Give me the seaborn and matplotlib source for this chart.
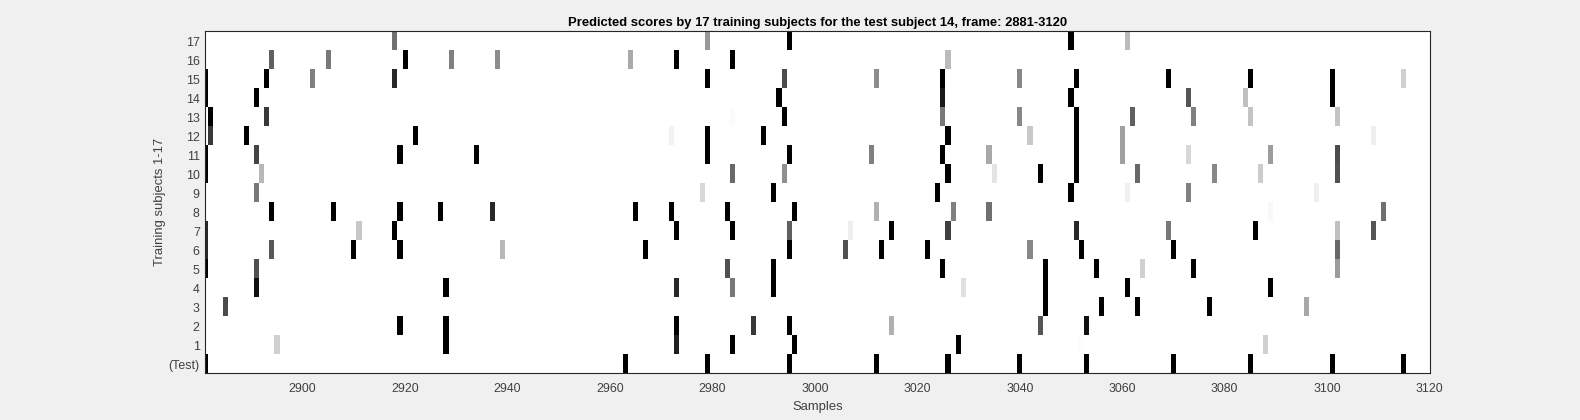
import numpy as np
import pandas as pd
import matplotlib
matplotlib.use("Agg")
import matplotlib.pyplot as plt
from matplotlib.transforms import ScaledTranslation
import seaborn as sns

frames = np.arange(2881, 3121)
row_labels = ["17", "16", "15", "14", "13", "12", "11", "10", "9", "8", "7", "6", "5", "4", "3", "2", "1", "(Test)"]

# spike positions per row and the gray level (0 = black)
s17 = [2918, 2979, 2995, 3050, 3061]
g17 = [0x70, 0x99, 0, 0, 0xbb]
s16 = [2894, 2905, 2920, 2929, 2938, 2964, 2973, 2984, 3026]
g16 = [0x60, 0x78, 0, 0x80, 0x8c, 0xaa, 0, 0, 0xbb]
s15 = [2881, 2893, 2902, 2918, 2979, 2994, 3012, 3025, 3040, 3051, 3069, 3085, 3101, 3115]
g15 = [0, 0, 0x80, 0x28, 0, 0x4c, 0x8c, 0, 0x88, 0, 0, 0, 0, 0xd0]
s14 = [2881, 2891, 2993, 3025, 3050, 3073, 3084, 3101]
g14 = [0, 0, 0, 0x18, 0, 0x55, 0xc0, 0]
s13 = [2882, 2893, 2984, 2994, 3025, 3040, 3051, 3062, 3074, 3085, 3102]
g13 = [0, 0x38, 0xfb, 0, 0x78, 0x88, 0, 0x60, 0x80, 0xc4, 0xc4]
s12 = [2882, 2889, 2922, 2972, 2979, 2990, 3026, 3042, 3051, 3060, 3109]
g12 = [0x38, 0, 0, 0xf2, 0, 0, 0, 0xc8, 0, 0xa0, 0xee]
s11 = [2881, 2891, 2919, 2934, 2979, 2995, 3011, 3025, 3034, 3051, 3060, 3073, 3089, 3102]
g11 = [0, 0x44, 0, 0, 0, 0, 0x80, 0, 0xa8, 0, 0xa0, 0xd8, 0x9c, 0x4c]
s10 = [2881, 2892, 2984, 2994, 3026, 3035, 3044, 3051, 3063, 3078, 3087, 3102]
g10 = [0, 0xb8, 0x68, 0x90, 0, 0xe4, 0, 0, 0x68, 0x88, 0xcc, 0x50]
s9 = [2891, 2978, 2992, 3024, 3050, 3061, 3073, 3098]
g9 = [0x78, 0xd8, 0, 0, 0, 0xf0, 0x80, 0xf0]
s8 = [2894, 2906, 2919, 2927, 2937, 2965, 2972, 2983, 2996, 3012, 3027, 3034, 3089, 3111]
g8 = [0, 0, 0, 0, 0x28, 0, 0, 0, 0, 0xb0, 0x80, 0x70, 0xf8, 0x70]
s7 = [2881, 2911, 2918, 2973, 2984, 2995, 3007, 3015, 3026, 3051, 3069, 3086, 3102, 3109]
g7 = [0x28, 0xc8, 0, 0, 0, 0x60, 0xee, 0, 0x40, 0x28, 0x78, 0, 0xc0, 0x55]
s6 = [2881, 2894, 2910, 2919, 2939, 2967, 2995, 3006, 3013, 3022, 3042, 3052, 3070, 3102]
g6 = [0x28, 0x58, 0, 0, 0xb8, 0, 0, 0x50, 0, 0, 0x88, 0, 0, 0x68]
s5 = [2881, 2891, 2983, 2992, 3025, 3045, 3055, 3064, 3074, 3102]
g5 = [0, 0x50, 0x50, 0, 0, 0, 0, 0xd0, 0, 0x9c]
s4 = [2891, 2928, 2973, 2984, 2992, 3029, 3045, 3061, 3089]
g4 = [0x10, 0, 0x28, 0x78, 0, 0xe0, 0, 0, 0]
s3 = [2885, 3045, 3056, 3063, 3077, 3096]
g3 = [0x4c, 0, 0, 0, 0, 0xa8]
s2 = [2919, 2928, 2973, 2988, 2995, 3015, 3044, 3053]
g2 = [0, 0, 0, 0x38, 0, 0xb0, 0x55, 0x10]
s1 = [2895, 2928, 2973, 2984, 2996, 3028, 3052, 3088]
g1 = [0xd0, 0, 0x20, 0, 0, 0, 0xfc, 0xd0]
s_test = [2881, 2963, 2979, 2995, 3012, 3026, 3040, 3053, 3070, 3085, 3101, 3115]
g_test = [0, 0, 0, 0, 0, 0, 0, 0, 0, 0, 0, 0]

spikes = [s17, s16, s15, s14, s13, s12, s11, s10, s9, s8, s7, s6, s5, s4, s3, s2, s1, s_test]
grays = [g17, g16, g15, g14, g13, g12, g11, g10, g9, g8, g7, g6, g5, g4, g3, g2, g1, g_test]

# Build the score table, white everywhere except the spikes
table = pd.DataFrame(255.0, index=row_labels, columns=frames)
for label, s, g in zip(row_labels, spikes, grays):
    table.loc[label, s] = g

plt.rcParams['font.family'] = ['Liberation Sans', 'DejaVu Sans']
fig = plt.figure(figsize=(15.8, 4.2), dpi=100, facecolor='#f0f0f0')
ax = fig.add_axes([205.3 / 1580, 1 - 373.3 / 420, 1224.2 / 1580, 342 / 420])

sns.heatmap(table, ax=ax, cmap='gray', vmin=0, vmax=255, cbar=False)

# heatmap cells are centred on i + 0.5, the axis runs from 2881 to 3120
ax.set_xlim(0.5, 239.5)
xticks = np.arange(2900, 3121, 20)
ax.set_xticks(xticks - 2881 + 0.5)
ax.set_xticklabels([str(t) for t in xticks], rotation=0)
ax.set_yticks(np.arange(len(row_labels)) + 0.5)
ax.set_yticklabels(row_labels, rotation=0)
ax.tick_params(axis='both', length=0, labelsize=8.9, labelcolor='#404040')
ax.tick_params(axis='x', pad=7)
ax.tick_params(axis='y', pad=4)

# row labels sit a little lower than matplotlib centres them
for lab in ax.get_yticklabels():
    lab.set_transform(lab.get_transform() + ScaledTranslation(0, -1.5 / 72, fig.dpi_scale_trans))

for spine in ax.spines.values():
    spine.set_visible(True)
    spine.set_linewidth(0.8)
    spine.set_color('#262626')

ax.set_title('Predicted scores by 17 training subjects for the test subject 14, frame: 2881-3120',
             fontsize=9.4, fontweight='bold', color='black', pad=4)
ax.set_xlabel('Samples', fontsize=9.4, color='#404040', labelpad=4)
ax.set_ylabel('Training subjects 1-17', fontsize=9.4, color='#404040', labelpad=2)

fig.savefig('out.png', dpi=100, facecolor=fig.get_facecolor())
